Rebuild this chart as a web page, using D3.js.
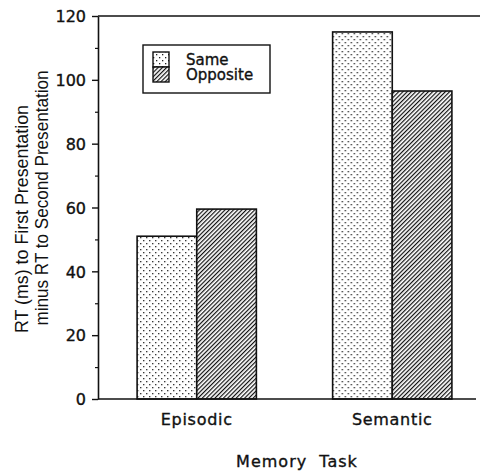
<!DOCTYPE html>
<html>
<head>
<meta charset="utf-8">
<script src="https://cdn.jsdelivr.net/npm/d3@7"></script>
<style>
  body { margin: 0; background: #fff; }
  svg { display: block; }
  .lbl { font-family: "DejaVu Sans"; fill: #111; stroke: #111; stroke-width: 0.35px; }
</style>
</head>
<body>
<div id="chart"></div>
<script>
const tasks = ["Episodic", "Semantic"]
const conditions = ["Same", "Opposite"]
const sameValues = [51, 115]
const oppositeValues = [59.5, 96.5]
const yTicks = [0, 20, 40, 60, 80, 100, 120]
const yTitle = ["RT (ms) to First Presentation", "minus RT to Second Presentation"]
const xTitle = "Memory  Task"

const width = 480
const height = 471

const rows = tasks.map((t, i) => ({ task: t, Same: sameValues[i], Opposite: oppositeValues[i] }))

const svg = d3.select("#chart")
    .append("svg")
    .attr("width", width)
    .attr("height", height)

const y = d3.scaleLinear().domain([0, 120]).range([399, 16])
const x = d3.scaleBand().domain(tasks).range([98, 491]).paddingInner(0.39).paddingOuter(0.2)
const xSub = d3.scaleBand().domain(conditions).range([0, x.bandwidth()])

// fill patterns
const defs = svg.append("defs")
const dots = defs.append("pattern")
    .attr("id", "dots")
    .attr("patternUnits", "userSpaceOnUse")
    .attr("width", 6).attr("height", 6)
dots.append("rect").attr("width", 6).attr("height", 6).attr("fill", "#fff")
dots.append("rect").attr("x", 0).attr("y", 0).attr("width", 1.3).attr("height", 1.3).attr("fill", "#222")
dots.append("rect").attr("x", 3).attr("y", 3).attr("width", 1.3).attr("height", 1.3).attr("fill", "#222")

const hatch = defs.append("pattern")
    .attr("id", "hatch")
    .attr("patternUnits", "userSpaceOnUse")
    .attr("width", 3).attr("height", 3)
    .attr("patternTransform", "rotate(45)")
hatch.append("rect").attr("width", 3).attr("height", 3).attr("fill", "#fff")
hatch.append("line")
    .attr("x1", 0).attr("y1", 0).attr("x2", 0).attr("y2", 3)
    .attr("stroke", "#111").attr("stroke-width", 2.4)

const fills = { Same: "url(#dots)", Opposite: "url(#hatch)" }

// bars
svg.append("g")
    .selectAll("g")
    .data(rows)
    .join("g")
    .attr("transform", d => `translate(${x(d.task)},0)`)
    .selectAll("rect")
    .data(d => conditions.map(c => ({ key: c, value: d[c] })))
    .join("rect")
    .attr("x", d => xSub(d.key))
    .attr("y", d => y(d.value))
    .attr("width", xSub.bandwidth())
    .attr("height", d => y(0) - y(d.value))
    .attr("fill", d => fills[d.key])
    .attr("stroke", "#111")
    .attr("stroke-width", 1.6)

// y axis
const yAxis = svg.append("g")
    .attr("transform", "translate(98,0)")
    .call(d3.axisLeft(y).tickValues(yTicks).tickSize(6).tickSizeOuter(0))
yAxis.select(".domain").attr("stroke", "#111").attr("stroke-width", 1.6)
yAxis.selectAll(".tick line").attr("stroke", "#111").attr("stroke-width", 1.4)
yAxis.selectAll(".tick text")
    .attr("class", "lbl")
    .attr("x", -12)
    .attr("dy", "0.36em")
    .style("font-size", "16px")

// minor ticks
svg.append("g")
    .attr("transform", "translate(98,0)")
    .call(d3.axisLeft(y).tickValues([10, 30, 50, 70, 90, 110]).tickSize(3).tickFormat(""))
    .call(g => g.select(".domain").remove())
    .selectAll(".tick line").attr("stroke", "#111").attr("stroke-width", 1.2)

// top and bottom frame lines
svg.append("line")
    .attr("x1", 98).attr("x2", 480).attr("y1", y(120)).attr("y2", y(120))
    .attr("stroke", "#111").attr("stroke-width", 1.6)
svg.append("line")
    .attr("x1", 98).attr("x2", 476).attr("y1", y(0)).attr("y2", y(0))
    .attr("stroke", "#111").attr("stroke-width", 1.6)

// category labels
svg.append("g")
    .selectAll("text")
    .data(tasks)
    .join("text")
    .attr("class", "lbl")
    .attr("x", d => x(d) + x.bandwidth() / 2)
    .attr("y", 425)
    .attr("text-anchor", "middle")
    .style("font-size", "16px")
    .style("letter-spacing", "0.7px")
    .text(d => d)

svg.append("text")
    .attr("class", "lbl")
    .attr("x", 297)
    .attr("y", 467)
    .attr("text-anchor", "middle")
    .style("font-size", "16px")
    .style("letter-spacing", "1px")
    .style("white-space", "pre")
    .text(xTitle)

// y title, two lines
const titleCenters = [219, 198]
const titleLengths = [228, 255]
svg.append("g")
    .selectAll("text")
    .data(yTitle)
    .join("text")
    .attr("transform", (d, i) => `translate(${28 + i * 20},${titleCenters[i]}) rotate(-90)`)
    .attr("text-anchor", "middle")
    .attr("textLength", (d, i) => titleLengths[i])
    .attr("lengthAdjust", "spacingAndGlyphs")
    .style("font-family", "Liberation Sans")
    .style("font-size", "19px")
    .attr("fill", "#111")
    .text(d => d)

// legend
const legend = svg.append("g")
legend.append("rect")
    .attr("x", 143).attr("y", 45).attr("width", 127).attr("height", 48)
    .attr("fill", "#fff").attr("stroke", "#111").attr("stroke-width", 1.4)
legend.selectAll(".sw")
    .data(conditions)
    .join("rect")
    .attr("class", "sw")
    .attr("x", 153)
    .attr("y", (d, i) => 52 + i * 15)
    .attr("width", 16)
    .attr("height", 15)
    .attr("fill", d => fills[d])
    .attr("stroke", "#111")
    .attr("stroke-width", 1.4)
legend.selectAll(".lt")
    .data(conditions)
    .join("text")
    .attr("class", "lbl")
    .attr("x", 186)
    .attr("y", (d, i) => 65 + i * 15)
    .style("font-size", "15px")
    .text(d => d)
</script>
</body>
</html>
